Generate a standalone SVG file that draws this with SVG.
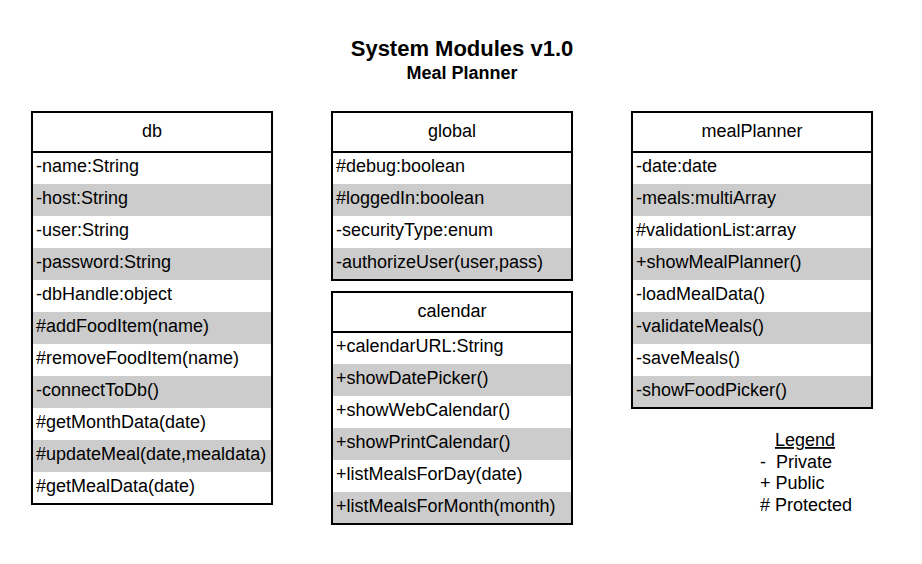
<svg xmlns="http://www.w3.org/2000/svg" width="922" height="564" viewBox="0 0 922 564">
<style>
text{font-family:"Liberation Sans",Arial,sans-serif;font-size:18px;fill:#000}
.t{font-weight:bold;text-anchor:middle}
.h{text-anchor:middle}
.box{fill:#fff;stroke:#000;stroke-width:2}
.g{fill:#cccccc}
.ln{stroke:#000;stroke-width:2}
</style>
<rect width="922" height="564" fill="#fff"/>
<text class="t" x="462" y="56" style="font-size:22px">System Modules v1.0</text>
<text class="t" x="462" y="79">Meal Planner</text>

<g id="db">
<rect class="box" x="32" y="112" width="240" height="392"/>
<rect class="g" x="33" y="184" width="238" height="32"/>
<rect class="g" x="33" y="248" width="238" height="32"/>
<rect class="g" x="33" y="312" width="238" height="32"/>
<rect class="g" x="33" y="376" width="238" height="32"/>
<rect class="g" x="33" y="440" width="238" height="32"/>
<line class="ln" x1="32" y1="152" x2="272" y2="152"/>
<text class="h" x="152" y="137">db</text>
<text x="36" y="172">-name:String</text>
<text x="36" y="204">-host:String</text>
<text x="36" y="236">-user:String</text>
<text x="36" y="268">-password:String</text>
<text x="36" y="300">-dbHandle:object</text>
<text x="36" y="332">#addFoodItem(name)</text>
<text x="36" y="364">#removeFoodItem(name)</text>
<text x="36" y="396">-connectToDb()</text>
<text x="36" y="428">#getMonthData(date)</text>
<text x="36" y="460">#updateMeal(date,mealdata)</text>
<text x="36" y="492">#getMealData(date)</text>
</g>

<g id="global">
<rect class="box" x="332" y="112" width="240" height="168"/>
<rect class="g" x="333" y="184" width="238" height="32"/>
<rect class="g" x="333" y="248" width="238" height="31"/>
<line class="ln" x1="332" y1="152" x2="572" y2="152"/>
<text class="h" x="452" y="137">global</text>
<text x="336" y="172">#debug:boolean</text>
<text x="336" y="204">#loggedIn:boolean</text>
<text x="336" y="236">-securityType:enum</text>
<text x="336" y="268">-authorizeUser(user,pass)</text>
</g>

<g id="calendar">
<rect class="box" x="332" y="292" width="240" height="232"/>
<rect class="g" x="333" y="364" width="238" height="32"/>
<rect class="g" x="333" y="428" width="238" height="32"/>
<rect class="g" x="333" y="492" width="238" height="31"/>
<line class="ln" x1="332" y1="332" x2="572" y2="332"/>
<text class="h" x="452" y="317">calendar</text>
<text x="336" y="352">+calendarURL:String</text>
<text x="336" y="384">+showDatePicker()</text>
<text x="336" y="416">+showWebCalendar()</text>
<text x="336" y="448">+showPrintCalendar()</text>
<text x="336" y="480">+listMealsForDay(date)</text>
<text x="336" y="512">+listMealsForMonth(month)</text>
</g>

<g id="mealPlanner">
<rect class="box" x="632" y="112" width="240" height="296"/>
<rect class="g" x="633" y="184" width="238" height="32"/>
<rect class="g" x="633" y="248" width="238" height="32"/>
<rect class="g" x="633" y="312" width="238" height="32"/>
<rect class="g" x="633" y="376" width="238" height="31"/>
<line class="ln" x1="632" y1="152" x2="872" y2="152"/>
<text class="h" x="752" y="137">mealPlanner</text>
<text x="636" y="172">-date:date</text>
<text x="636" y="204">-meals:multiArray</text>
<text x="636" y="236">#validationList:array</text>
<text x="636" y="268">+showMealPlanner()</text>
<text x="636" y="300">-loadMealData()</text>
<text x="636" y="332">-validateMeals()</text>
<text x="636" y="364">-saveMeals()</text>
<text x="636" y="396">-showFoodPicker()</text>
</g>

<g id="legend">
<text class="h" x="805" y="446" text-decoration="underline">Legend</text>
<text x="760" y="468" xml:space="preserve">-  Private</text>
<text x="760" y="489">+ Public</text>
<text x="760" y="511"># Protected</text>
</g>
</svg>
